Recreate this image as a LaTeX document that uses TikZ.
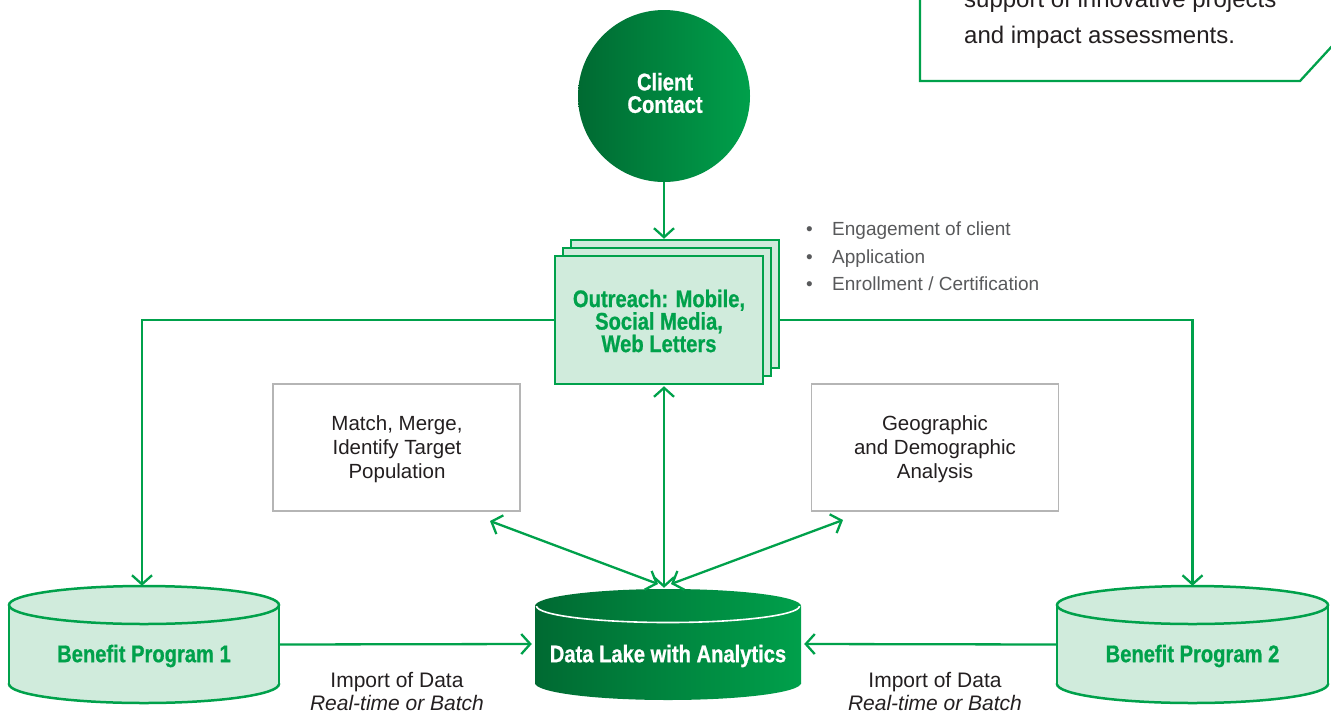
\documentclass[tikz,border=0pt]{standalone}
\usepackage{fontspec}
\setmainfont{Liberation Sans}
\newfontfamily\condfam[FakeStretch=0.84, BoldFeatures={FakeBold=0.8}]{Liberation Sans}
\usetikzlibrary{arrows.meta,calc}
\definecolor{gG}{HTML}{00A14B}
\definecolor{gDk}{HTML}{006A32}
\definecolor{gBr}{HTML}{00A04B}
\definecolor{gLt}{HTML}{D0EBDC}
\definecolor{gBox}{HTML}{B5B5B5}
\definecolor{txt}{HTML}{231F20}
\definecolor{gryT}{HTML}{58595B}
\begin{document}
\begin{tikzpicture}[x=1pt,y=-1pt,
  conn/.style={draw=gG, line width=2.3pt},
  endtip/.style={-{Straight Barb[length=9pt,width=20pt]}},
  bothtip/.style={{Straight Barb[length=9pt,width=20pt]}-{Straight Barb[length=9pt,width=20pt]}},
  gline/.style={draw=gG, line width=2.5pt},
  pagebox/.style={gline, fill=gLt, rectangle, inner sep=0pt, minimum width=208pt, minimum height=128pt},
  graybox/.style={draw=gBox, line width=1.8pt, fill=white, rectangle, inner sep=0pt,
     minimum width=247pt, minimum height=127pt},
  graytext/.style={align=center, text=txt, font=\fontsize{20.5}{24}\selectfont},
  boldc/.style={font=\fontsize{24}{22.5}\selectfont\condfam\bfseries, align=center},
  plain/.style={font=\fontsize{21}{23}\selectfont, text=txt, align=center},
  bullet/.style={font=\fontsize{19}{22}\selectfont, text=gryT, anchor=base west, inner sep=0pt},
  ghost/.style={inner sep=0pt, rectangle}
]
\useasboundingbox (0,0) rectangle (1331,713);

% top-right note box
\draw[gline, line width=2.3pt] (920,-10) -- (920,81) -- (1300,81) -- (1345,32);
\node[anchor=base west, inner sep=0pt, text=txt, font=\fontsize{24}{28}\selectfont] (noteA) at (964,7) {support of innovative projects};
\node[anchor=base west, inner sep=0pt, text=txt, font=\fontsize{24}{28}\selectfont] (noteB) at (964,43) {and impact assessments.};

% client contact
\node[circle, minimum size=172pt, inner sep=0pt, left color=gDk, right color=gBr] (client) at (664,96) {};
\node[boldc, text=white] (clientT) at (665,93) {Client\\Contact};

% outreach stacked pages
\node[pagebox] (outc) at (675,304) {};
\node[pagebox] (outb) at (667,312) {};
\node[pagebox] (out) at (659,320) {};
\node[boldc, text=gG] (outT) at (659,321) {Outreach: Mobile,\\Social Media,\\Web Letters};

% bullets
\node[bullet] (b1d) at (806,235) {\textbullet};
\node[bullet] (b1) at (832,235) {Engagement of client};
\node[bullet] (b2d) at (806,263) {\textbullet};
\node[bullet] (b2) at (832,263) {Application};
\node[bullet] (b3d) at (806,290) {\textbullet};
\node[bullet] (b3) at (832,290) {Enrollment / Certification};

% gray analysis boxes
\node[graybox] (match) at (396.5,447.5) {};
\node[graytext] (matchT) at (397,449) {Match, Merge,\\Identify Target\\Population};
\node[graybox] (geo) at (935,447.5) {};
\node[graytext] (geoT) at (935,449) {Geographic\\and Demographic\\Analysis};

% benefit program 1 cylinder
\draw[gline, fill=gLt] (144,684) ellipse (135 and 19);
\fill[gLt] (9,605) rectangle (279,684);
\draw[gline] (9,605) -- (9,684) (279,605) -- (279,684);
\draw[gline, fill=gLt] (144,605) ellipse (135 and 19);
\node[ghost, minimum width=270pt, minimum height=117pt] (bp1) at (144,644.5) {};
\node[boldc, text=gG] (bp1T) at (144,656) {Benefit Program 1};

% benefit program 2 cylinder
\draw[gline, fill=gLt] (1192.5,684) ellipse (135.5 and 19);
\fill[gLt] (1057,605) rectangle (1328,684);
\draw[gline] (1057,605) -- (1057,684) (1328,605) -- (1328,684);
\draw[gline, fill=gLt] (1192.5,605) ellipse (135.5 and 19);
\node[ghost, minimum width=271pt, minimum height=117pt] (bp2) at (1192.5,644.5) {};
\node[boldc, text=gG] (bp2T) at (1192.5,656) {Benefit Program 2};

% data lake cylinder
\shade[left color=gDk, right color=gBr] (668,683) ellipse (133 and 17);
\shade[left color=gDk, right color=gBr] (535,606) rectangle (801,683);
\shade[left color=gDk, right color=gBr] (668,606) ellipse (133 and 17);
\begin{scope}
  \clip (530,606) rectangle (806,630);
  \draw[white, line width=1.6pt] (668,606) ellipse (131.5 and 16.5);
\end{scope}
\node[ghost, minimum width=266pt, minimum height=112pt] (lake) at (668,644) {};
\node[boldc, text=white] (lakeT) at (668,656) {Data Lake with Analytics};

% import labels
\node[plain] (imp1) at (397,691) {Import of Data\\\itshape Real-time or Batch};
\node[plain] (imp2) at (935,691) {Import of Data\\\itshape Real-time or Batch};

% connectors
\draw[conn, endtip] (client.south) -- (client.south |- outc.north);
\draw[conn, endtip] (out.west) -| ($(bp1.north)+(-2,0)$);
\draw[conn, endtip] (out.center -| outc.east) -| (bp2.north);
\draw[conn, bothtip] (client.center |- lake.north) -- ($(client.center |- out.south)+(0,1)$);
\coordinate (mTip) at (490,521);
\coordinate (gTip) at (843,520);
\coordinate (lTipL) at (658,584);
\coordinate (lTipR) at (671,584);
\draw[conn, bothtip] (lTipL) -- (mTip);
\draw[conn, bothtip] (lTipR) -- (gTip);
\draw[conn, endtip] (bp1.east) -- ($(lake.west)+(-3,0)$);
\draw[conn, endtip] (bp2.west) -- ($(lake.east)+(3,0)$);
\end{tikzpicture}
\end{document}
